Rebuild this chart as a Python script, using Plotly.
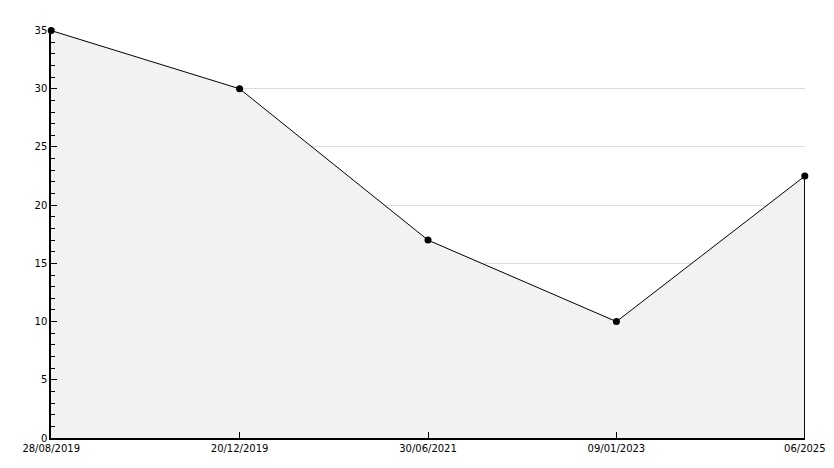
import plotly.graph_objects as go

categories = ["28/08/2019", "20/12/2019", "30/06/2021", "09/01/2023", "06/2025"]
values = [35, 30, 17, 10, 22.5]

fig = go.Figure()
fig.add_trace(go.Scatter(
    x=categories, y=values, mode="lines+markers",
    fill="tozeroy", fillcolor="#f2f2f2",
    line=dict(color="black", width=1),
    marker=dict(color="black", size=7, symbol="circle"),
    cliponaxis=False,
    hoverinfo="x+y", showlegend=False,
))
# right edge of the filled area
fig.add_trace(go.Scatter(
    x=[categories[-1], categories[-1]], y=[0, values[-1]], mode="lines",
    line=dict(color="black", width=1.5), hoverinfo="skip", showlegend=False,
))

font = dict(family="DejaVu Sans", size=10, color="black")
# page body has an 8px default margin, so the figure is sized to fit the window
fig.update_layout(
    width=818, height=452,
    margin=dict(l=43, r=21, t=22, b=22),
    paper_bgcolor="white", plot_bgcolor="white",
    font=font,
    xaxis=dict(
        type="category", range=[-0.001, 4.001],
        showgrid=False, zeroline=False,
        showline=True, linecolor="black", linewidth=1.5,
        ticks="inside", ticklen=6, tickcolor="black",
        tickfont=font, automargin=False,
    ),
    yaxis=dict(
        range=[0, 35.05], dtick=5, tick0=0,
        showgrid=True, gridcolor="#dcdcdc", gridwidth=1,
        zeroline=False,
        showline=True, linecolor="black", linewidth=1.5,
        ticks="inside", ticklen=6, tickcolor="black",
        minor=dict(dtick=1, ticks="inside", ticklen=4, tickcolor="black", showgrid=False),
        tickfont=font, automargin=False,
    ),
)

fig.write_html("out.html")
